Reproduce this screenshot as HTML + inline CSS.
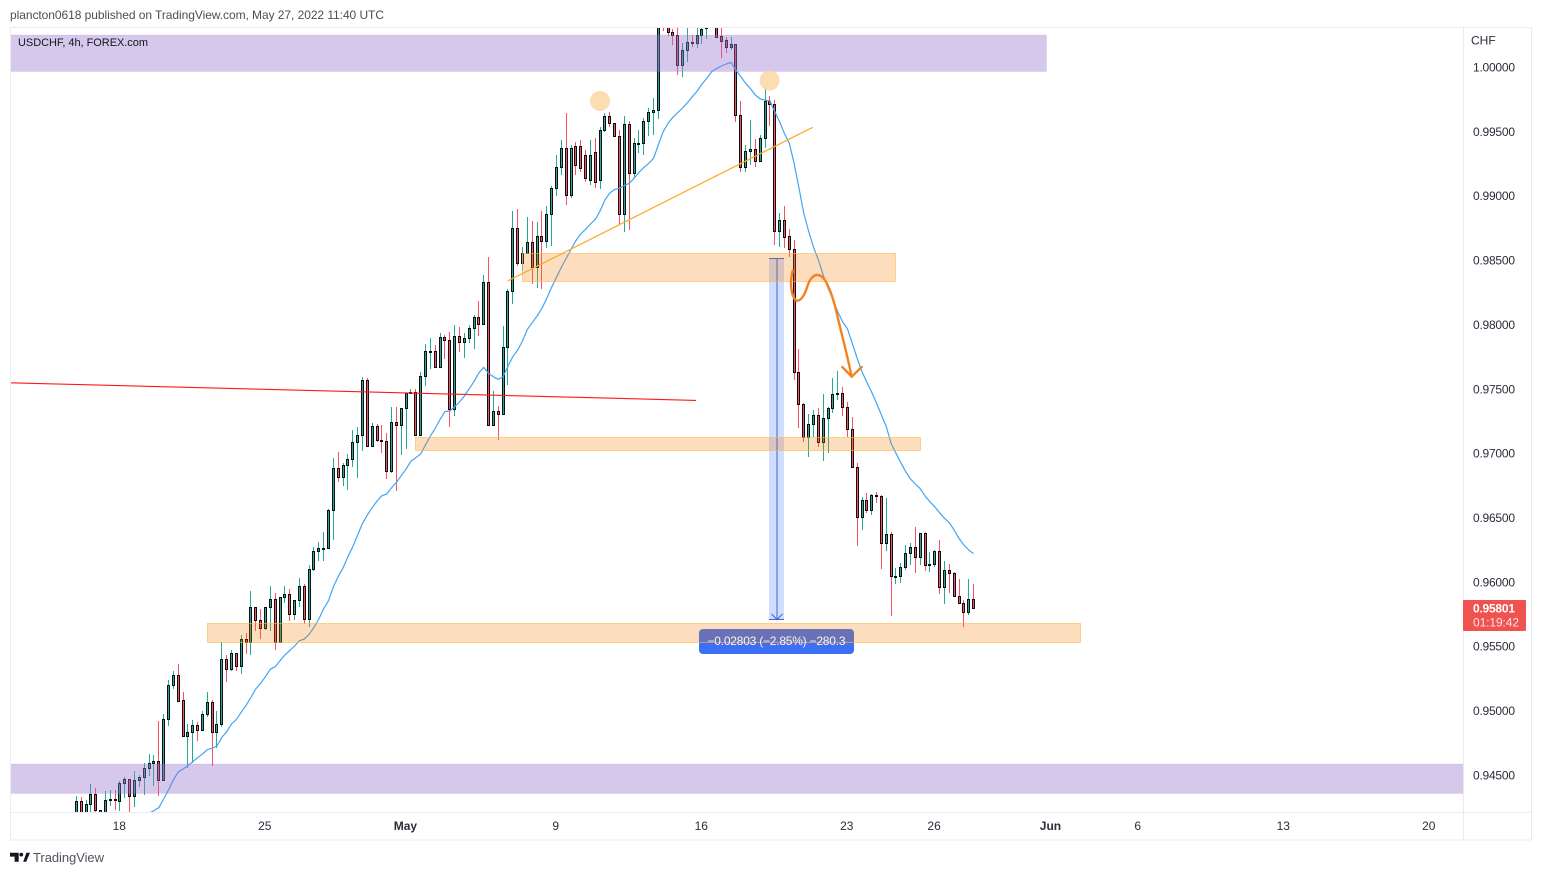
<!DOCTYPE html>
<html lang="en">
<head>
<meta charset="utf-8">
<title>USDCHF 4h chart</title>
<style>
html,body{margin:0;padding:0;background:#fff;width:1541px;height:875px;overflow:hidden}
svg{display:block;font-family:"Liberation Sans",sans-serif}
text{font-family:"Liberation Sans",sans-serif}
</style>
</head>
<body>
<svg id="chart" xmlns="http://www.w3.org/2000/svg" width="1541" height="875" viewBox="0 0 1541 875">
  <defs><clipPath id="pane"><rect x="10" y="28" width="1453" height="784"/></clipPath></defs>
  <rect x="0" y="0" width="1541" height="875" fill="#ffffff"/>
  <text x="10" y="19" font-size="12" fill="#4a4e5a" textLength="374">plancton0618 published on TradingView.com, May 27, 2022 11:40 UTC</text>
  <g id="pane-layer" clip-path="url(#pane)">
    <g id="candles" shape-rendering="crispEdges"></g>
    <path id="ma-line" fill="none" stroke="#42a5f5" stroke-width="1.2" stroke-linejoin="round"/>
    <g>
      <rect x="769" y="258.5" width="15" height="361" fill="#2962ff" fill-opacity="0.22"/>
      <line x1="769" y1="258.5" x2="784" y2="258.5" stroke="#3f62cf" stroke-width="1"/>
      <line x1="777" y1="258.5" x2="777" y2="619.5" stroke="#3f62cf" stroke-width="1"/>
      <line x1="769" y1="619.5" x2="784" y2="619.5" stroke="#3f62cf" stroke-width="1"/>
      <path d="M771.5 614 L777 619.5 L782.5 614" fill="none" stroke="#3f62cf" stroke-width="1"/>
      <rect x="699" y="629" width="155" height="25" rx="4" fill="#3b6ff5"/>
    </g>
    <rect x="10" y="35" width="1036.5" height="36.5" fill="#9575cd" fill-opacity="0.4" stroke="#9575cd" stroke-opacity="0.12"/>
    <rect x="10" y="764" width="1453.5" height="29.5" fill="#9575cd" fill-opacity="0.4" stroke="#9575cd" stroke-opacity="0.12"/>
    <rect x="522.5" y="253.5" width="373" height="28" fill="#f57c00" fill-opacity="0.25" stroke="#ffb74d" stroke-opacity="0.6"/>
    <rect x="415.5" y="437.5" width="505" height="13" fill="#f57c00" fill-opacity="0.25" stroke="#ffb74d" stroke-opacity="0.6"/>
    <rect x="207.5" y="623.5" width="873" height="19" fill="#f57c00" fill-opacity="0.25" stroke="#ffb74d" stroke-opacity="0.6"/>
    <text x="776.5" y="645" font-size="12" fill="#fff4e8" text-anchor="middle" textLength="138">−0.02803 (−2.85%) −280.3</text>
    <line x1="10" y1="382.8" x2="696" y2="400.4" stroke="#ff1a1a" stroke-width="1.1"/>
    <line x1="507.7" y1="281" x2="812.7" y2="127.3" stroke="#ffa726" stroke-width="1.2"/>
    <circle cx="600" cy="101" r="10" fill="#fbd9a9" fill-opacity="0.9"/>
    <circle cx="769.5" cy="80.5" r="10" fill="#fbd9a9" fill-opacity="0.9"/>
    <path d="M792.7 270.7 C790.5 279 790.5 288 792.7 295 C794 299 795.5 301 797.8 300.6 C802 300 805 294 807.5 286 C809.5 279.5 813 275.2 817 275 C821 274.8 825 279 828 286 C831 292 834 302 836 310 C838.5 321 841 331 843.5 341 C846 351 849 364 851.7 376.7" fill="none" stroke="#f58220" stroke-width="2.4" stroke-linecap="round"/>
    <path d="M842.3 367 L851.7 376.7 L861.7 367" fill="none" stroke="#f58220" stroke-width="2.4" stroke-linecap="round" stroke-linejoin="round"/>
  </g>
  <g shape-rendering="crispEdges">
    <rect x="10.5" y="27.5" width="1521" height="812.5" fill="none" stroke="#e9ebf1"/>
    <line x1="1463.5" y1="27" x2="1463.5" y2="840" stroke="#e9ebf1"/>
    <line x1="10" y1="812.5" x2="1532" y2="812.5" stroke="#e9ebf1"/>
  </g>
  <text x="18" y="46" font-size="11" fill="#131722" textLength="130">USDCHF, 4h, FOREX.com</text>
  <text x="1471" y="44.5" font-size="12" fill="#2a2e39">CHF</text>
  <g id="price-axis"></g>
  <g id="time-axis"></g>
  <g>
    <rect x="1463" y="600" width="63" height="31" rx="1" fill="#ef5350"/>
    <text x="1473" y="612.5" font-size="12" font-weight="bold" fill="#ffffff" textLength="42">0.95801</text>
    <text x="1473" y="626.5" font-size="12" fill="#fde3e2" textLength="46">01:19:42</text>
  </g>
  <g>
    <path d="M10 852.7H18.7V861.7H14.6V856.6H10Z M23.2 861.7L26.4 852.7H30L26.2 861.7Z" fill="#131722"/>
    <circle cx="21.3" cy="854.6" r="1.9" fill="#131722"/>
    <text x="33" y="862" font-size="13" fill="#50535e" textLength="71">TradingView</text>
  </g>
</svg>
<script>
// Prices are quoted in points: 1 point = 0.00001 CHF.
const pointSize = 0.00001;
const opens = [94180,94298,94180,94275,94352,94228,94150,94306,94314,94303,
94438,94469,94342,94461,94485,94554,94593,94609,94461,94935,
95199,95277,95083,94803,94834,94889,94850,94974,95067,94834,
94896,95401,95324,95448,95347,95557,95533,95805,95704,95647,
95805,95867,95533,95883,95906,95751,95860,95968,95712,96101,
96240,96259,96264,96559,96885,96815,96909,96955,97087,97142,
97569,97056,97212,97103,97095,96862,97243,97219,97351,97468,
97476,97142,97600,97792,97794,97670,97903,97880,97349,97911,
97870,97896,97973,98059,98010,98331,97220,97329,97305,97826,
98261,98750,98478,98556,98642,98453,98688,98649,98859,99061,
99227,99375,99012,99390,99390,99320,99126,99343,99123,99512,
99620,99566,99465,98859,99558,99178,99408,99411,99582,99652,
99667,100450,100360,100278,100250,100017,100133,100201,100188,100250,
100304,100340,100400,100245,100211,100162,100180,99633,99224,99349,
99364,99276,99450,99737,99714,98727,98812,98688,98587,97631,
97382,97131,97227,97297,97087,97274,97351,97460,97468,97359,
97188,96893,96510,96637,96564,96675,96668,96303,96372,96044,
96046,96116,96225,96271,96194,96380,96132,96139,96240,95966,
96093,96069,95891,95836,95766,95867];
const highs = [94339,94329,94308,94433,94402,94228,94376,94386,94386,94453,
94484,94469,94534,94503,94593,94666,94658,94922,94977,95241,
95311,95365,95148,94899,94930,94914,94997,95148,95085,95000,
95533,95432,95471,95448,95590,95606,95932,95805,95790,95805,
95968,95914,95883,95968,95945,95860,96031,95984,96132,96271,
96315,96388,96569,96963,97010,96924,96994,97183,97204,97592,
97585,97235,97227,97222,97157,97359,97359,97351,97473,97499,
97499,97631,97851,97895,97843,97934,97921,97942,97997,97984,
97935,98000,98077,98186,98388,98525,97487,97373,97992,98276,
98883,98901,98608,98839,98807,98800,98885,98924,99079,99320,
99437,99646,99400,99421,99437,99359,99437,99452,99540,99644,
99652,99566,99514,99620,99582,99450,99514,99605,99683,99760,
100500,100500,100400,100300,100315,100188,100330,100252,100330,100330,
100400,100450,100450,100330,100240,100234,100180,99740,99395,99592,
99442,99475,99848,99778,99747,98869,98924,98742,98659,97812,
97390,97307,97338,97357,97463,97364,97584,97641,97517,97398,
97287,96924,96663,96691,96683,96699,96678,96655,96388,96111,
96147,96290,96303,96429,96385,96391,96233,96251,96328,96163,
96142,96080,96023,95860,96023,95984];
const lows = [94150,94150,94150,94200,94190,94100,94100,94262,94231,94223,
94327,94190,94254,94412,94350,94495,94417,94342,94461,94883,
95171,95072,94803,94554,94593,94769,94850,94956,94575,94715,
94878,95225,95313,95311,95287,95443,95435,95624,95557,95629,
95624,95474,95533,95836,95702,95707,95810,95676,95655,96085,
96163,96168,96264,96328,96782,96748,96717,96893,96813,97023,
97048,97056,97092,97007,96805,96846,96712,96989,97033,97468,
97142,97142,97525,97654,97670,97670,97732,97207,97292,97790,
97743,97857,97813,97914,97999,97220,97220,97106,97297,97533,
98163,98458,98419,98556,98318,98287,98279,98600,98613,98998,
99165,98932,98986,99165,99188,99110,99087,99064,99056,99501,
99540,99457,98784,98724,98737,99139,99333,99320,99470,99475,
99602,100284,100247,100177,99942,99926,100043,100157,100149,100183,
100224,100330,100240,100076,100110,100136,99579,99188,99188,99242,
99224,99276,99372,99545,98621,98608,98595,98530,97571,97196,
97090,96976,97131,97048,96945,97007,97318,97416,97292,97126,
96893,96282,96406,96536,96523,96613,96103,96243,95738,95987,
95997,96095,96134,96075,96134,96088,96082,96121,95909,95831,
95914,95888,95836,95655,95748,95801];
const closes = [94298,94180,94275,94352,94228,94150,94306,94314,94306,94438,
94469,94342,94461,94485,94554,94593,94609,94461,94935,95199,
95277,95080,94803,94834,94889,94850,94974,95067,94834,94896,
95401,95324,95448,95347,95557,95533,95805,95704,95647,95805,
95867,95533,95883,95906,95751,95860,95968,95712,96101,96240,
96264,96264,96559,96885,96815,96909,96955,97087,97142,97569,
97056,97212,97103,97095,96862,97243,97219,97351,97468,97476,
97142,97600,97794,97799,97670,97903,97880,97349,97911,97870,
97896,97973,98059,98010,98331,97220,97329,97305,97826,98261,
98750,98478,98556,98642,98453,98688,98649,98859,99061,99227,
99375,99012,99375,99242,99219,99141,99320,99110,99512,99620,
99566,99465,98859,99558,99178,99411,99413,99582,99652,99667,
100400,100360,100278,100250,100017,100133,100201,100188,100250,100302,
100330,100400,100240,100208,100162,100180,99633,99224,99349,99364,
99276,99450,99737,99714,98727,98812,98686,98587,97631,97382,
97131,97227,97297,97087,97274,97351,97460,97468,97359,97188,
96893,96510,96637,96564,96675,96668,96303,96372,96046,96049,
96116,96225,96271,96194,96380,96132,96139,96240,95966,96093,
96069,95891,95836,95766,95867,95801];
// Moving average, one reading per bar starting at bar maFirstBar.
const maFirstBar = 14;
const maValues = [94179,94205,94226,94249,94316,94386,94464,94526,94549,94575,
94606,94637,94666,94700,94710,94728,94795,94839,94899,94935,
94990,95044,95106,95171,95215,95267,95324,95344,95391,95435,
95469,95505,95546,95559,95596,95650,95715,95795,95857,95966,
96044,96113,96199,96277,96367,96458,96523,96580,96631,96673,
96686,96735,96776,96828,96880,96942,96968,96997,97067,97137,
97196,97266,97326,97331,97364,97401,97447,97504,97559,97628,
97670,97623,97597,97577,97597,97680,97753,97805,97875,97966,
98017,98069,98129,98207,98292,98370,98447,98517,98587,98655,
98706,98743,98784,98820,98886,98971,99025,99053,99062,99082,
99100,99139,99185,99222,99255,99294,99398,99501,99566,99613,
99649,99685,99727,99773,99817,99872,99916,99968,99991,100012,
100027,100040,99980,99929,99877,99835,99786,99755,99747,99740,
99657,99579,99488,99411,99255,99061,98867,98726,98604,98504,
98387,98284,98198,98102,98025,97968,97856,97740,97636,97553,
97476,97390,97300,97209,97079,97002,96929,96859,96802,96764,
96727,96670,96626,96587,96541,96497,96463,96406,96341,96290,
96251,96222];
const priceTicks = [1.0,0.995,0.99,0.985,0.98,0.975,0.97,0.965,0.96,0.955,0.95,0.945];
const priceTickLabels = ["1.00000","0.99500","0.99000","0.98500","0.98000","0.97500","0.97000","0.96500","0.96000","0.95500","0.95000","0.94500"];
const timeTickBars = [9,39,68,99,129,159,177,201,219,249,279];
const timeTickLabels = ["18","25","May","9","16","23","26","Jun","6","13","20"];
const timeTickBold = ["May","Jun"];

function xScale(bar){return 76.33+bar*4.85;}
function yScale(price){return 67.5+(1-price)*12870;}
function yPoints(points){return yScale(points*pointSize);}

const NS='http://www.w3.org/2000/svg';
const UP='#22ab94',DOWN='#f7525f',BORDER='#0c0e12';
const candlesLayer=document.getElementById('candles');
function makeRect(x,y,w,h,fill){
  const r=document.createElementNS(NS,'rect');
  r.setAttribute('x',x);r.setAttribute('y',y);r.setAttribute('width',w);r.setAttribute('height',h);r.setAttribute('fill',fill);
  return r;
}
opens.forEach(function(open,i){
  const close=closes[i];
  const col=Math.floor(xScale(i));
  const color=close>=open?UP:DOWN;
  const g=document.createElementNS(NS,'g');
  
  
  const wickTop=Math.round(yPoints(highs[i]));
  const wickBottom=Math.round(yPoints(lows[i]));
  const wick=makeRect(col,wickTop,1,Math.max(1,wickBottom-wickTop),color);
  
  
  g.appendChild(wick);
  const bodyTop=Math.round(yPoints(Math.max(open,close)));
  const bodyBottom=Math.round(yPoints(Math.min(open,close)));
  const bodyH=Math.max(2,bodyBottom-bodyTop+1);
  const outline=makeRect(col-1,bodyTop,3,bodyH,BORDER);
  
  
  g.appendChild(outline);
  if(bodyH>2){
    const fill=makeRect(col,bodyTop+1,1,bodyH-2,color);
    
    
    g.appendChild(fill);
  }
  candlesLayer.appendChild(g);
});
document.getElementById('ma-line').setAttribute('d',maValues.map(function(v,k){
  return (k?'L':'M')+xScale(maFirstBar+k).toFixed(1)+' '+yPoints(v).toFixed(1);
}).join(' '));
const priceAxis=document.getElementById('price-axis');
priceTicks.forEach(function(tick,k){
  const t=document.createElementNS(NS,'text');
  
  
  t.setAttribute('x',1473);
  t.setAttribute('y',yScale(tick)+4);
  t.setAttribute('font-size','12');
  t.setAttribute('fill','#2a2e39');
  t.setAttribute('textLength','42');
  t.textContent=priceTickLabels[k];
  priceAxis.appendChild(t);
});
const timeAxis=document.getElementById('time-axis');
timeTickBars.forEach(function(bar,k){
  const t=document.createElementNS(NS,'text');
  
  
  t.setAttribute('x',xScale(bar)-0.7);
  t.setAttribute('y',830);
  t.setAttribute('font-size','12');
  t.setAttribute('text-anchor','middle');
  t.setAttribute('fill','#2a2e39');
  if(timeTickBold.indexOf(timeTickLabels[k])>=0){t.setAttribute('font-weight','bold');}
  t.textContent=timeTickLabels[k];
  timeAxis.appendChild(t);
});
</script>
</body>
</html>
